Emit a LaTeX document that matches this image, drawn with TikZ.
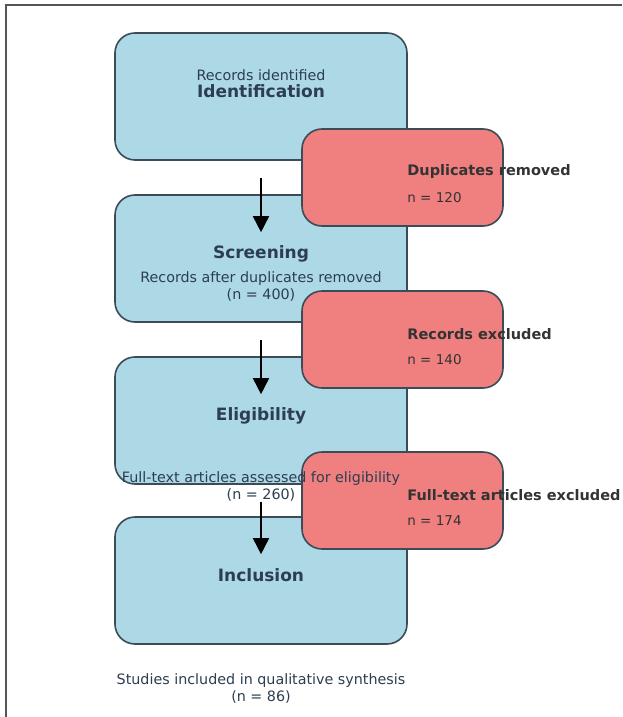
\documentclass[tikz,border=0pt]{standalone}
\usepackage{fontspec}
\setmainfont{DejaVu Sans}
\usepackage{tikz}
\usetikzlibrary{arrows.meta,calc}
\definecolor{stagefill}{HTML}{ADD8E6}
\definecolor{exclfill}{HTML}{F08080}
\definecolor{edgegray}{HTML}{3B4B57}
\definecolor{inkdark}{HTML}{2C3E50}
\definecolor{framegray}{HTML}{555555}

\begin{document}
\begin{tikzpicture}[x=0.5pt,y=-0.5pt,>={Triangle[length=8pt,width=8pt]},
  stage/.style={draw=edgegray,fill=stagefill,line width=0.8pt,rounded corners=10pt,
    minimum width=146pt,minimum height=63.5pt,inner sep=0pt},
  excl/.style={draw=edgegray,fill=exclfill,line width=0.8pt,rounded corners=10pt,
    minimum width=100.5pt,minimum height=48.5pt,inner sep=0pt},
  title/.style={font=\fontsize{8.5}{10}\selectfont\bfseries,text=inkdark,inner sep=0pt},
  desc/.style={font=\fontsize{7.15}{8.5}\selectfont,text=inkdark,align=center,inner sep=0pt},
  extitle/.style={font=\fontsize{7.25}{9}\selectfont\bfseries,text=black!80,anchor=west,inner sep=0pt},
  excount/.style={font=\fontsize{6.75}{8}\selectfont,text=black!80,anchor=west,inner sep=0pt},
  flow/.style={->,line width=0.8pt,black}]
\useasboundingbox (0,0) rectangle (622,717);
% frame
\draw[framegray,line width=0.6pt] (6,717) -- (6,5) -- (622,5);
% stages
\foreach \n/\y/\t in {id/96.5/Identification,scr/258.5/Screening,elig/420.5/Eligibility,incl/580.5/Inclusion} {
  \node[stage] (\n) at (261,\y) {};
  \node[title] (\n-t) at (261,\y-5) {\t};
}
% arrows between stages
\foreach \a/\b in {id/scr,scr/elig,elig/incl} {
  \coordinate (\a-out) at ([yshift=-8.5pt]\a.south);
  \coordinate (\b-in) at ([yshift=-19pt]\b.north);
  \draw[flow] (\a-out) -- (\b-in);
}
% exclusions
\foreach \n/\y in {dup/177.5,rex/339.5,fex/500.5} {
  \node[excl] (\n) at (402.5,\y) {};
}
% stage counts
\node[desc] (id-d) at (261,75) {Records identified};
\node[desc] (scr-d) at (261,286.5) {Records after duplicates removed\\(n = 400)};
\node[desc] (elig-d) at (261,486.5) {Full-text articles assessed for eligibility\\(n = 260)};
\node[desc] (incl-d) at (261,689) {Studies included in qualitative synthesis\\(n = 86)};
% exclusion labels
\foreach \n/\y/\t/\c in {dup/177.5/Duplicates removed/120,rex/339.5/Records excluded/140,fex/500.5/Full-text articles excluded/174} {
  \node[extitle] (\n-t) at (407,\y-5.5) {\t};
  \node[excount] (\n-c) at (407,\y+20) {n = \c};
}
\end{tikzpicture}
\end{document}
